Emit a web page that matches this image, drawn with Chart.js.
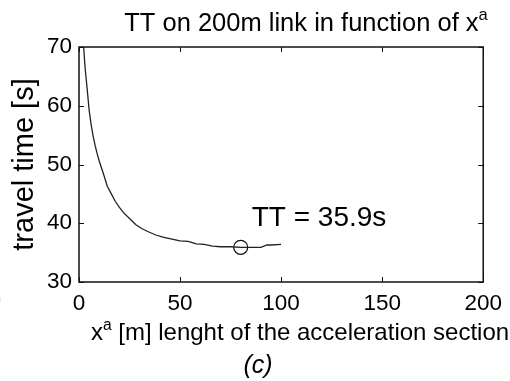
<!DOCTYPE html>
<html>
<head>
<meta charset="utf-8">
<script src="https://cdn.jsdelivr.net/npm/chart.js@4"></script>
<style>
  html, body { margin: 0; padding: 0; background: #fff; }
  #wrap { width: 510px; height: 381px; position: relative; }
</style>
</head>
<body>
<div id="wrap"><canvas id="tt-chart" width="510" height="381"></canvas></div>
<script>
// travel time vs length of the acceleration section
const xaMeters = [2.3, 3, 4, 5, 6, 7, 8, 9, 10, 12, 14, 16, 18, 20, 22, 25, 28, 31, 34, 38, 42, 46, 50, 54, 58, 62, 66, 70, 75, 80, 85, 90, 93, 95, 100];
const travelTime = [70, 66.5, 63, 59.3, 56.8, 54.8, 53.2, 51.8, 50.6, 48.5, 46.3, 45, 43.7, 42.7, 41.8, 40.8, 39.8, 39.1, 38.6, 38.0, 37.6, 37.3, 37.0, 36.9, 36.5, 36.4, 36.1, 36.0, 36.0, 35.9, 35.9, 35.9, 36.3, 36.3, 36.4];
const optimumX = [80];
const optimumTT = [35.9];
const xTicks = [0, 50, 100, 150, 200];
const yTicks = [30, 40, 50, 60, 70];

const FONT = '"Liberation Sans", Arial, sans-serif';

// text with a superscript part
function drawSup(ctx, parts, x, y, size, align) {
    let total = 0;
    parts.forEach(p => {
        ctx.font = (p.sup ? size * 0.65 : size) + 'px ' + FONT;
        p.w = ctx.measureText(p.t).width;
        total += p.w;
    });
    let cx = align === 'center' ? x - total / 2 : x;
    ctx.textAlign = 'left';
    parts.forEach(p => {
        ctx.font = (p.sup ? size * 0.65 : size) + 'px ' + FONT;
        ctx.fillText(p.t, cx, p.sup ? y - size * 0.42 : y);
        cx += p.w;
    });
}

const matlabBox = {
    id: 'matlabBox',
    afterDraw(chart) {
        const ctx = chart.ctx;
        const a = chart.chartArea;
        const xs = chart.scales.x;
        const ys = chart.scales.y;
        ctx.save();
        ctx.strokeStyle = '#111';
        ctx.lineWidth = 1.5;
        ctx.strokeRect(a.left, a.top, a.right - a.left, a.bottom - a.top);
        ctx.lineWidth = 1;
        const tl = 5;
        xs.ticks.forEach(t => {
            const px = Math.round(xs.getPixelForValue(t.value)) + 0.5;
            ctx.beginPath();
            ctx.moveTo(px, a.bottom); ctx.lineTo(px, a.bottom - tl);
            ctx.moveTo(px, a.top); ctx.lineTo(px, a.top + tl);
            ctx.stroke();
        });
        ys.ticks.forEach(t => {
            const py = Math.round(ys.getPixelForValue(t.value)) + 0.5;
            ctx.beginPath();
            ctx.moveTo(a.left, py); ctx.lineTo(a.left + tl, py);
            ctx.moveTo(a.right, py); ctx.lineTo(a.right - tl, py);
            ctx.stroke();
        });

        ctx.fillStyle = '#000';
        ctx.textBaseline = 'alphabetic';
        // title
        drawSup(ctx, [{t: 'TT on 200m link in function of x'}, {t: 'a', sup: true}], 306, 31, 25.5, 'center');
        // x label
        drawSup(ctx, [{t: 'x'}, {t: 'a', sup: true}, {t: ' [m] lenght of the acceleration section'}], 300, 340, 24, 'center');
        ctx.font = 'italic 25px ' + FONT;
        ctx.textAlign = 'center';
        ctx.fillText('(c)', 258, 373);
        // y label
        ctx.save();
        ctx.translate(33, (a.top + a.bottom) / 2);
        ctx.rotate(-Math.PI / 2);
        ctx.font = '29px ' + FONT;
        ctx.textAlign = 'center';
        ctx.fillText('travel time [s]', 0, 0);
        ctx.restore();
        // annotation
        const px = xs.getPixelForValue(optimumX[0]);
        const py = ys.getPixelForValue(optimumTT[0]);
        ctx.textAlign = 'left';
        ctx.font = '28px ' + FONT;
        ctx.fillText('TT = ' + optimumTT[0] + 's', px + 11, py - 21);
        // bits of the neighbouring panel
        ctx.fillStyle = '#ccc';
        ctx.font = '20px ' + FONT;
        ctx.fillText(')', -5, 305);
        ctx.restore();
    }
};

new Chart(document.getElementById('tt-chart'), {
    type: 'scatter',
    data: {
        datasets: [{
            data: xaMeters.map((x, i) => ({x: x, y: travelTime[i]})),
            showLine: true,
            borderColor: '#222',
            borderWidth: 1.3,
            pointRadius: 0,
            tension: 0
        }, {
            data: optimumX.map((x, i) => ({x: x, y: optimumTT[i]})),
            showLine: false,
            pointRadius: 7,
            pointBorderWidth: 1.3,
            pointBorderColor: '#111',
            pointBackgroundColor: 'rgba(0,0,0,0)'
        }]
    },
    options: {
        responsive: false,
        animation: false,
        layout: { padding: { left: 0, right: 23, top: 47, bottom: 59 } },
        plugins: { legend: { display: false }, tooltip: { enabled: false } },
        scales: {
            x: {
                type: 'linear', min: 0, max: 200,
                afterBuildTicks: s => { s.ticks = xTicks.map(v => ({value: v})); },
                afterFit: s => { s.height = 40; },
                grid: { display: false, drawTicks: false },
                border: { display: false },
                ticks: { color: '#000', font: { family: FONT, size: 22.5 }, padding: 8, maxRotation: 0 }
            },
            y: {
                type: 'linear', min: 30, max: 70,
                afterBuildTicks: s => { s.ticks = yTicks.map(v => ({value: v})); },
                afterFit: s => { s.width = 79; },
                grid: { display: false, drawTicks: false },
                border: { display: false },
                ticks: { color: '#000', font: { family: FONT, size: 22.5 }, padding: 7 }
            }
        }
    },
    plugins: [matlabBox]
});
</script>
</body>
</html>
